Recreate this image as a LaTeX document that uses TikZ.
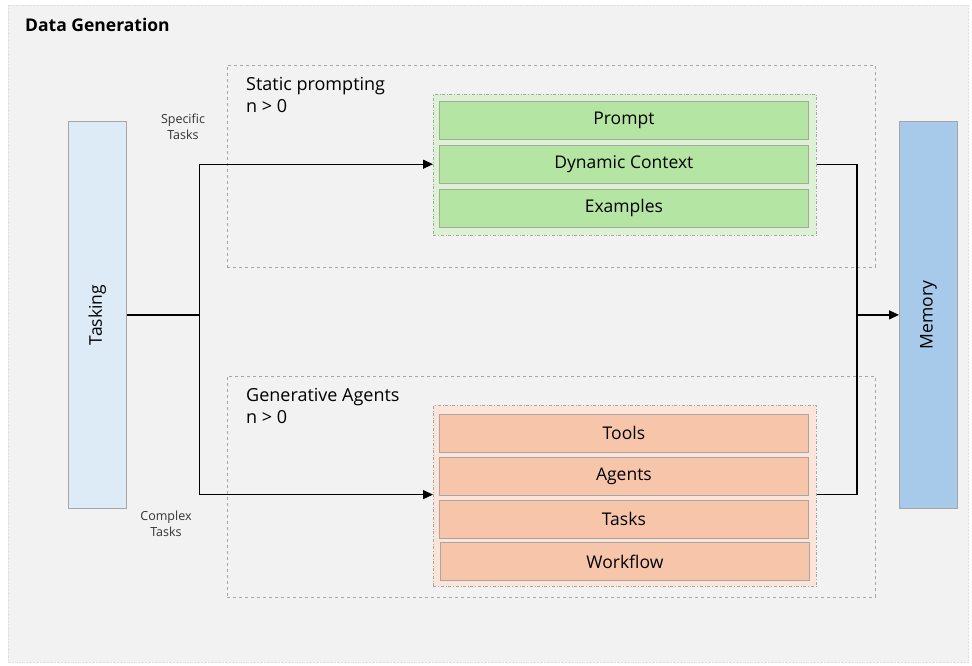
\documentclass[tikz,border=0pt]{standalone}
\usepackage{fontspec}
\setmainfont{Open Sans}
\usetikzlibrary{arrows.meta, positioning}
\definecolor{panelgray}{HTML}{F2F2F2}
\definecolor{taskblue}{HTML}{DDEBF7}
\definecolor{memblue}{HTML}{A7CAEB}
\definecolor{promptgreen}{HTML}{B4E5A2}
\definecolor{promptbg}{HTML}{DCF2D2}
\definecolor{agentorange}{HTML}{F7C6AA}
\definecolor{agentbg}{HTML}{FCE5D8}
\definecolor{edgegray}{HTML}{A6A6A6}

\begin{document}
\begin{tikzpicture}[
        x=1pt, y=-1pt,
        layer/.style={draw=edgegray, line width=0.8pt, fill=#1, minimum width=369pt, minimum height=38pt, inner sep=0pt, font=\fontsize{17.5}{20}\selectfont, anchor=north west},
        group/.style={draw=edgegray, dash dot, line width=0.7pt, fill=#1, inner sep=0pt, anchor=north west},
        stage/.style={draw=edgegray, dashed, line width=0.9pt, inner sep=0pt, anchor=north west, minimum width=648pt},
        side/.style={draw=edgegray, line width=0.8pt, fill=#1, minimum width=58pt, minimum height=387pt, inner sep=0pt, anchor=north west},
        stagelabel/.style={anchor=north west, align=left, font=\fontsize{18}{22}\selectfont, inner sep=0pt},
        small/.style={font=\fontsize{12.5}{16}\selectfont, align=center, text=black!80},
        arr/.style={-{Triangle[length=10pt,width=9pt]}, line width=1.3pt},
        link/.style={line width=1.3pt}
    ]
        % Panel
        \fill[white] (0,0) rectangle (972,666);
        \draw[densely dotted, gray!25, fill=panelgray] (8,5) rectangle (968,662);
        \node[anchor=base west, inner sep=0pt, font=\fontsize{17.5}{20}\selectfont\bfseries] (title) at (25,32) {Data Generation};

        % Tasking and Memory
        \node[side=taskblue] (tasking) at (68,121) {};
        \node[rotate=90, font=\fontsize{17.5}{20}\selectfont] at (tasking.center) {Tasking};
        \node[side=memblue] (memory) at (899,121) {};
        \node[rotate=90, font=\fontsize{17.5}{20}\selectfont] at (memory.center) {Memory};

        % Static prompting
        \node[stage, minimum height=202pt] (static) at (227,65) {};
        \node[stagelabel] (statictxt) at (246,77) {Static prompting\\n > 0};
        \node[group=promptbg, minimum width=383pt, minimum height=141pt] (greenbox) at (433,94) {};
        \node[layer=promptgreen] (prompt) at (439,101) {Prompt};
        \node[layer=promptgreen, below=5pt of prompt] (dyn) {Dynamic Context};
        \node[layer=promptgreen, below=5pt of dyn] (examples) {Examples};

        % Generative agents
        \node[stage, minimum height=221pt] (generative) at (227,376) {};
        \node[stagelabel] (gentxt) at (246,388) {Generative Agents\\n > 0};
        \node[group=agentbg, minimum width=383pt, minimum height=181pt] (orangebox) at (433,405) {};
        \node[layer=agentorange] (tools) at (439,414) {Tools};
        \node[layer=agentorange, below=4pt of tools] (agents) {Agents};
        \node[layer=agentorange, below=4pt of agents] (tasks) {Tasks};
        \node[layer=agentorange, below=4pt of tasks, xshift=1pt] (workflow) {Workflow};

        % Branch labels
        \node[small] (specific) at (183,127) {Specific\\Tasks};
        \node[small] (complex) at (166,524) {Complex\\Tasks};

        % Connectors
        \coordinate (split) at ([xshift=73pt]tasking.east);
        \coordinate (merge) at ([xshift=-42pt]memory.west);
        \draw[link] (tasking.east) -- (split);
        \draw[arr] (split) |- (dyn.west -| greenbox.west);
        \draw[arr] (split) |- ([yshift=1pt]agents.south -| orangebox.west);
        \draw[link] (dyn.east -| greenbox.east) -| (merge) |- ([yshift=1pt]agents.south -| orangebox.east);
        \draw[arr] (merge) -- (memory.west);
\end{tikzpicture}
\end{document}
